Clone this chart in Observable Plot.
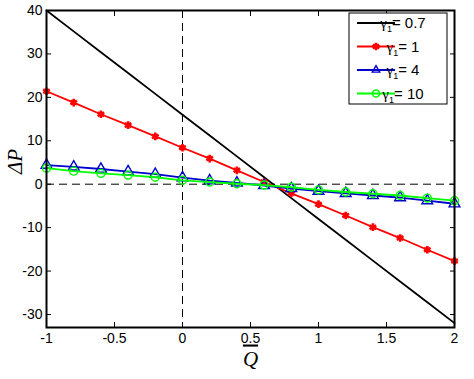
<!DOCTYPE html>
<html><head><meta charset="utf-8">
<script src="https://cdn.jsdelivr.net/npm/d3@7"></script>
<script src="https://cdn.jsdelivr.net/npm/@observablehq/plot@0.6"></script>
<style>body{margin:0;background:#fff} #c{width:474px;height:379px}</style>
</head><body><div id="c"></div>
<script>
const qbar = [-1, -0.8, -0.6, -0.4, -0.2, 0, 0.2, 0.4, 0.6, 0.8, 1, 1.2, 1.4, 1.6, 1.8, 2];
const dp07 = [40, 35.2, 30.4, 25.6, 20.8, 16.0, 11.2, 6.4, 1.6, -3.2, -8.0, -12.8, -17.6, -22.4, -27.2, -32.0];
const dp1  = [21.4, 18.8, 16.1, 13.6, 11.0, 8.4, 5.9, 3.2, 0.5, -2.1, -4.6, -7.2, -9.9, -12.4, -15.1, -17.7];
const dp4  = [4.4, 4.0, 3.5, 2.9, 2.3, 1.5, 0.8, 0.3, -0.3, -1.0, -1.6, -2.1, -2.6, -3.1, -3.8, -4.5];
const dp10 = [3.7, 3.0, 2.5, 2.1, 1.6, 0.9, 0.5, 0.1, -0.2, -0.7, -1.3, -1.8, -2.2, -2.6, -3.2, -3.8];
const gammaLabels = ["0.7", "1", "4", "10"];
const seriesColors = ["#000000", "#ff0000", "#0000cc", "#00ff00"];
const seriesSymbols = [null, "asterisk", "triangle", "circle"];
const xTicks = [-1, -0.5, 0, 0.5, 1, 1.5, 2];
const yTicks = [-30, -20, -10, 0, 10, 20, 30, 40];
const xDomain = [-1, 2];
const yDomain = [-33, 40];

const allSeries = [dp07, dp1, dp4, dp10];
const rows = allSeries.map((vals, s) => qbar.map((q, i) => ({q, dp: vals[i], s})));

const font = "'Liberation Sans', Arial, sans-serif";
const serif = "'Liberation Serif', 'Times New Roman', serif";
const marks = [
  Plot.ruleX([0], {stroke: "#000", strokeWidth: 1, strokeDasharray: "8,5"}),
  Plot.ruleY([0], {stroke: "#000", strokeWidth: 1, strokeDasharray: "8,5"}),
];
rows.forEach((r, s) => {
  marks.push(Plot.line(r, {x: "q", y: "dp", stroke: seriesColors[s], strokeWidth: 1.8}));
  if (seriesSymbols[s]) {
    const star = seriesSymbols[s] === "asterisk";
    marks.push(Plot.dot(r, {x: "q", y: "dp", symbol: seriesSymbols[s], stroke: seriesColors[s],
      fill: "none", r: star ? 3.6 : 4, strokeWidth: star ? 2.6 : 1.4}));
  }
});
marks.push(
  Plot.frame({stroke: "#000", strokeWidth: 2}),
  Plot.axisX(xTicks, {anchor: "bottom", tickSize: -5, tickPadding: 11, label: null, fontSize: 14, tickFormat: d => String(d)}),
  Plot.axisX(xTicks, {anchor: "top", tickSize: -5, label: null, tickFormat: () => ""}),
  Plot.axisY(yTicks, {anchor: "left", tickSize: -5, tickPadding: 9, label: null, fontSize: 14, tickFormat: d => String(d)}),
  Plot.axisY(yTicks, {anchor: "right", tickSize: -5, label: null, tickFormat: () => ""}),
  Plot.text(["ΔP"], {frameAnchor: "left", dx: -31, dy: 5, rotate: -90, fontSize: 21, fontStyle: "italic", fontFamily: serif}),
  Plot.text(["Q"], {frameAnchor: "bottom", dy: 38, fontSize: 21, fontStyle: "italic", fontFamily: serif})
);

const chart = Plot.plot({
  width: 474, height: 379,
  marginLeft: 46, marginRight: 20, marginTop: 10, marginBottom: 52,
  style: {fontFamily: font, fontSize: "14px", color: "#000", background: "#fff"},
  x: {domain: xDomain},
  y: {domain: yDomain},
  marks
});
document.getElementById("c").appendChild(chart);

const svg = d3.select(chart);
svg.selectAll("text").filter(function() { return this.textContent === "Q"; })
  .style("text-decoration", "overline");

// legend
const lg = svg.append("g").attr("font-family", font);
lg.append("rect").attr("x", 349).attr("y", 13).attr("width", 98).attr("height", 91)
  .attr("fill", "#fff").attr("stroke", "#000").attr("stroke-width", 1);
const symMap = {asterisk: d3.symbolAsterisk, triangle: d3.symbolTriangle2, circle: d3.symbolCircle};
gammaLabels.forEach((lab, i) => {
  const y = 23 + i * 23.5;
  lg.append("line").attr("x1", 357).attr("x2", 395).attr("y1", y).attr("y2", y)
    .attr("stroke", seriesColors[i]).attr("stroke-width", 1.8);
  if (seriesSymbols[i]) {
    const star = seriesSymbols[i] === "asterisk";
    lg.append("path").attr("transform", `translate(376,${y})`)
      .attr("d", d3.symbol(symMap[seriesSymbols[i]], 40)())
      .attr("fill", "none").attr("stroke", seriesColors[i]).attr("stroke-width", star ? 2.6 : 1.4);
  }
  const t = lg.append("text").attr("x", 403).attr("y", y + 5).attr("font-size", 15).attr("fill", "#000");
  t.append("tspan").text("γ").attr("font-family", serif).attr("font-size", 15);
  t.append("tspan").text("1").attr("font-size", 9).attr("dy", 4);
  t.append("tspan").text("= " + lab).attr("dy", -4);
});
</script>
</body></html>
